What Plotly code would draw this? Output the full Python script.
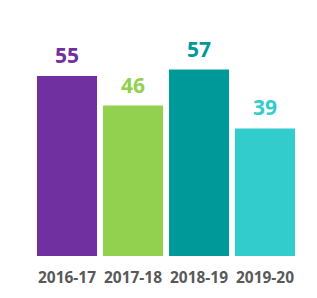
import plotly.graph_objects as go

categories = ["2016-17", "2017-18", "2018-19", "2019-20"]
values = [55, 46, 57, 39]
colors = ["#7030A0", "#92D050", "#009999", "#33CCCC"]

fig = go.Figure()
fig.add_trace(go.Bar(
    x=categories, y=values,
    marker=dict(color=colors, line=dict(width=0)),
    hoverinfo="skip",
))
for c, v, col in zip(categories, values, colors):
    fig.add_annotation(
        x=c, y=v, text=f"<b>{v}</b>", showarrow=False,
        yanchor="bottom", yshift=5,
        font=dict(family="Open Sans", size=21, color=col),
    )

fig.update_layout(
    width=317, height=298,
    margin=dict(l=34, r=19, t=10, b=42),
    paper_bgcolor="white", plot_bgcolor="white",
    bargap=0.09,
    showlegend=False,
    xaxis=dict(
        showgrid=False, showline=False, zeroline=False,
        ticks="outside", ticklen=7, tickcolor="rgba(0,0,0,0)",
        tickfont=dict(family="Open Sans", size=15.5, color="#595959", weight="bold"),
    ),
    yaxis=dict(
        range=[0, 75.2], visible=False, showgrid=False, zeroline=False,
    ),
)

fig.write_html("out.html")
